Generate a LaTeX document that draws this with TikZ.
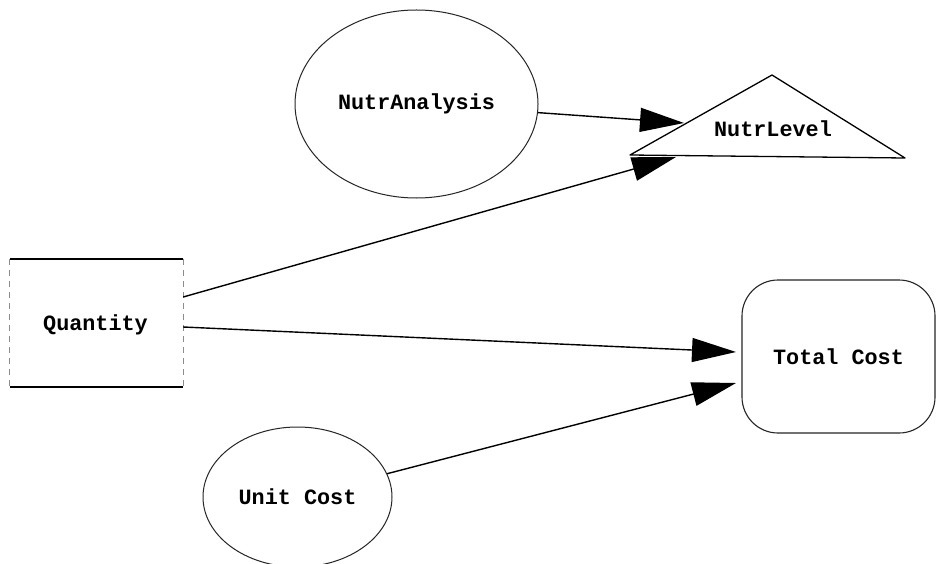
\documentclass[tikz,border=0pt]{standalone}
\usepackage{fontspec}
\setmainfont{Liberation Mono}
\usetikzlibrary{arrows.meta,shapes.geometric,calc}
\tikzset{
  lbl/.style={font=\fontsize{21.8}{24}\selectfont\bfseries, text=black},
  oval/.style={ellipse, draw=black!85, line width=1pt, inner sep=0pt, lbl},
  link/.style={draw=black, line width=1.4pt,
    -{Triangle[length=44pt, width=24pt]}},
}
\begin{document}
\begin{tikzpicture}[x=1pt, y=-1pt]
  \useasboundingbox[fill=white] (0,0) rectangle (936,564);

  % Quantity: solid top and bottom, faint sides
  \node[minimum width=173pt, minimum height=128pt, inner sep=0pt] (q) at (96.5,323) {};
  \node[lbl] (qt) at (95.5,325) {Quantity};
  \draw[line width=1.5pt] (q.north west) -- (q.north east);
  \draw[line width=1.5pt] (q.south west) -- (q.south east);
  \draw[black!45, line width=0.8pt, dash pattern=on 6pt off 5pt] (q.north west) -- (q.south west);
  \draw[black!45, line width=0.8pt, dash pattern=on 6pt off 5pt] (q.north east) -- (q.south east);

  % NutrAnalysis and Unit Cost ovals
  \node[oval, minimum width=243pt, minimum height=188pt] (na) at (416.5,104) {NutrAnalysis};
  \node[oval, minimum width=189pt, minimum height=140pt] (uc) at (297.5,497) {Unit Cost};

  % NutrLevel triangle
  \coordinate (nlTop) at (772,75);
  \coordinate (nlLeft) at (630,155);
  \coordinate (nlRight) at (905,158);
  \draw[line width=1.3pt, line join=round] (nlTop) -- (nlLeft) -- (nlRight) -- cycle;
  \node[lbl] (nl) at (773,129) {NutrLevel};
  \coordinate (nlIn1) at (684,123);
  \coordinate (nlIn2) at (676,157);

  % Total Cost rounded box
  \node[lbl, draw=black!85, line width=1.1pt, rounded corners=36pt,
        minimum width=193pt, minimum height=153pt] (tc) at (838.5,356.5) {Total Cost};
  \coordinate (tcIn1) at (736,352);
  \coordinate (tcIn2) at (736,383);

  % Influence arrows
  \draw[link] ($(q.east)+(0,-26)$) -- (nlIn2);
  \draw[link] ($(q.east)+(0,4)$) -- (tcIn1);
  \draw[link] (na) -- (nlIn1);
  \draw[link] (uc) -- (tcIn2);
\end{tikzpicture}
\end{document}
